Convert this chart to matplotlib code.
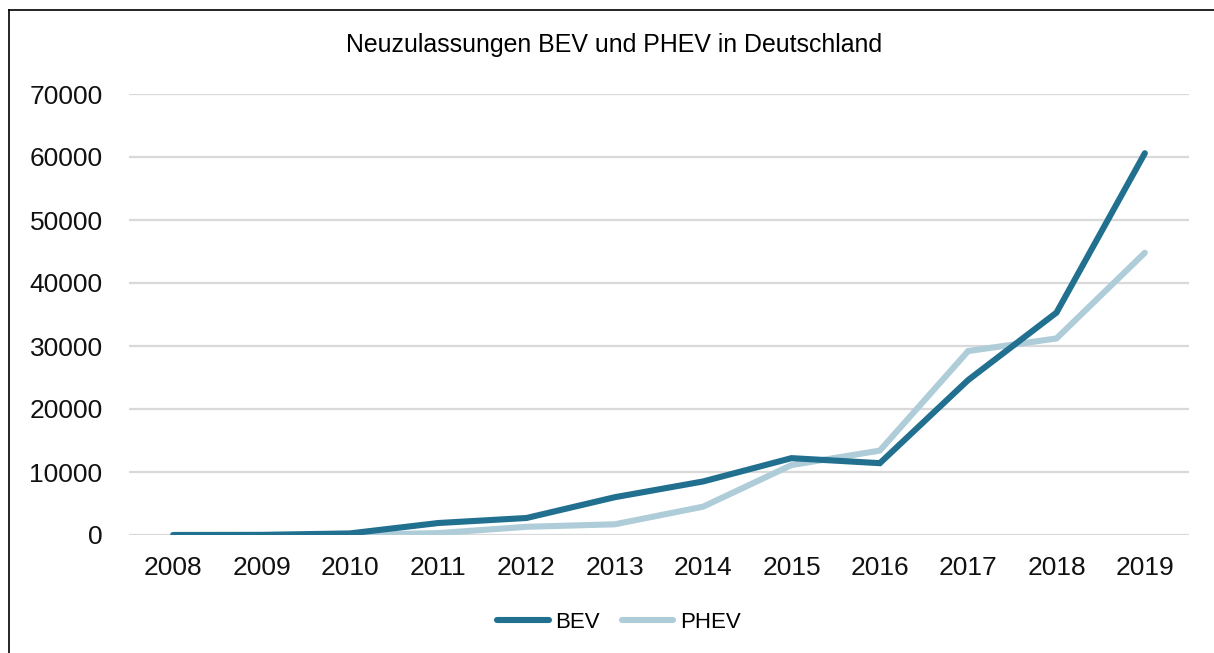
import matplotlib
matplotlib.use("Agg")
import matplotlib.pyplot as plt
from matplotlib.lines import Line2D

years = ["2008", "2009", "2010", "2011", "2012", "2013", "2014", "2015", "2016", "2017", "2018", "2019"]
bev = [0, 20, 250, 1900, 2700, 6000, 8500, 12200, 11400, 24600, 35300, 60600]
phev = [0, 0, 0, 300, 1300, 1700, 4500, 11100, 13400, 29200, 31200, 44800]
yticks = [0, 10000, 20000, 30000, 40000, 50000, 60000, 70000]

plt.rcParams['font.family'] = ['Liberation Sans', 'DejaVu Sans']

fig = plt.figure(figsize=(12.14, 6.53), dpi=100)
ax = fig.add_axes([129/1214, 1-535/653, (1189-129)/1214, (535-94)/653])

x = list(range(len(years)))
ax.plot(x, bev, color="#21708f", lw=4.4, solid_capstyle="round", solid_joinstyle="miter", label="BEV", zorder=3)
ax.plot(x, phev, color="#aecdd9", lw=4.4, solid_capstyle="round", solid_joinstyle="miter", label="PHEV", zorder=2)

ax.set_xlim(-0.5, len(years) - 0.5)
ax.set_ylim(0, 70000)
ax.set_yticks(yticks)
ax.set_yticklabels([str(v) for v in yticks])
ax.set_xticks(x)
ax.set_xticklabels(years)
ax.tick_params(axis="both", length=0, labelsize=19, colors="#111111")
ax.tick_params(axis="y", pad=19)
ax.tick_params(axis="x", pad=15)
for s in ax.spines.values():
    s.set_visible(False)
ax.grid(axis="y", color="#d9d9d9", lw=1.6)
ax.set_axisbelow(True)

fig.text(614/1214, 1-45/653, "Neuzulassungen BEV und PHEV in Deutschland", ha="center", va="center",
         fontsize=17.9, color="#000000")

handles = [Line2D([], [], color="#21708f", lw=4.4, solid_capstyle="round"),
           Line2D([], [], color="#aecdd9", lw=4.4, solid_capstyle="round")]
fig.legend(handles, ["BEV", "PHEV"], loc="center", bbox_to_anchor=(619/1214, 1-622/653), ncol=2,
           frameon=False, fontsize=16, handlelength=2.3, handletextpad=0.3, columnspacing=1.0)

# outer frame
fig.add_artist(Line2D([9/1214, 9/1214], [0, 1-10/653], color="black", lw=1.2, transform=fig.transFigure))
fig.add_artist(Line2D([9/1214, 1], [1-10/653, 1-10/653], color="black", lw=1.2, transform=fig.transFigure))

fig.savefig("out.png", dpi=100, facecolor="white")
